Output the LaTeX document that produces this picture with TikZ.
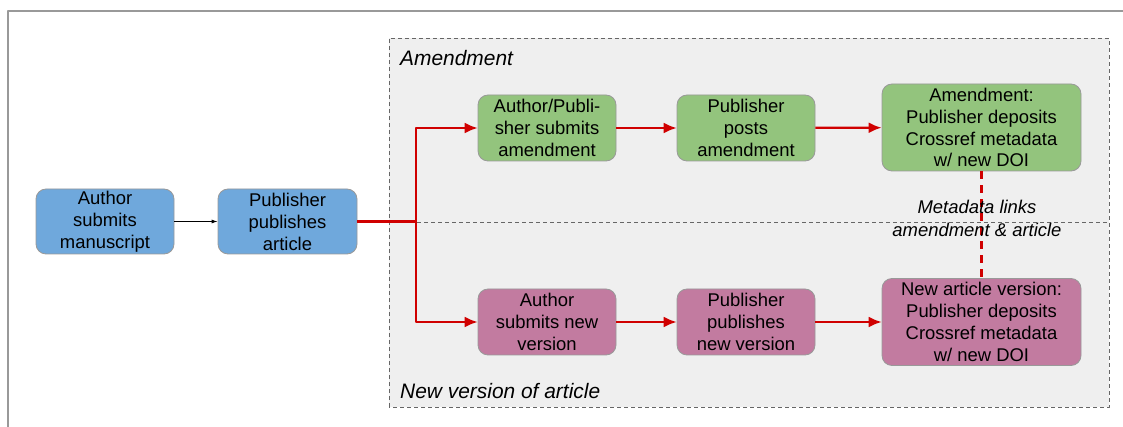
\documentclass[tikz,border=0pt]{standalone}
\usepackage{fontspec}
\setmainfont{Liberation Sans}
\usetikzlibrary{arrows.meta}
\definecolor{bluebox}{HTML}{6FA8DC}
\definecolor{greenbox}{HTML}{93C47D}
\definecolor{pinkbox}{HTML}{C27BA0}
\definecolor{redline}{HTML}{D00000}
\definecolor{regionfill}{HTML}{EFEFEF}
\tikzset{
  step box/.style={draw=black!40,line width=0.8bp,rounded corners=10bp,align=center,
    minimum width=138bp,minimum height=66bp,inner sep=1bp,
    font=\fontsize{18.5}{22}\selectfont},
  wide box/.style={step box,minimum width=199bp,minimum height=87bp},
  red flow/.style={draw=redline,line width=2.2bp,->},
}
\begin{document}
\begin{tikzpicture}[>={Latex[length=13bp,width=11bp]},line join=bevel,]
    \useasboundingbox (0bp,0bp) rectangle (1123bp,427bp);
    %% frame and regions
    \draw [black!40,line width=1.2bp] (8bp,0bp) -- (8bp,416bp) -- (1123bp,416bp);
    \draw [fill=regionfill,draw=black!60,dash pattern=on 4bp off 3bp,line width=0.8bp] (389bp,20bp) rectangle (1109bp,389bp);
    \draw [draw=black!60,dash pattern=on 4bp off 3bp,line width=0.8bp] (389bp,205bp) -- (1109bp,205bp);
    \node (amendlabel) at (400bp,369bp) [anchor=west,inner sep=0pt,font=\fontsize{21}{25}\selectfont\itshape] {Amendment};
    \node (versionlabel) at (400bp,36bp) [anchor=west,inner sep=0pt,font=\fontsize{21}{25}\selectfont\itshape] {New version of article};
    %%
    \node (ms) at (105.0bp,205.5bp) [step box,fill=bluebox,minimum height=65bp] {Author\\submits\\manuscript};
    \node (pub) at (287.5bp,205.5bp) [step box,fill=bluebox,minimum height=65bp,minimum width=139bp] {Publisher\\publishes\\article};
    \node (am1) at (547.0bp,299.0bp) [step box,fill=greenbox] {Author/Publi-\\sher submits\\amendment};
    \node (am2) at (746.0bp,299.0bp) [step box,fill=greenbox] {Publisher\\posts\\amendment};
    \node (am3) at (981.5bp,299.5bp) [wide box,fill=greenbox] {Amendment:\\Publisher deposits\\Crossref metadata\\w/ new DOI};
    \node (nv1) at (547.0bp,105.0bp) [step box,fill=pinkbox] {Author\\submits new\\version};
    \node (nv2) at (746.0bp,105.0bp) [step box,fill=pinkbox] {Publisher\\publishes\\new version};
    \node (nv3) at (981.5bp,105.0bp) [wide box,fill=pinkbox] {New article version:\\Publisher deposits\\Crossref metadata\\w/ new DOI};
    \coordinate (split) at (416bp,205.5bp);
    %%
    \draw [->,>={Latex[length=6bp,width=4bp]},line width=0.8bp] (ms) -- (pub);
    \draw [red flow,-] (pub) -- (split);
    \draw [red flow] (split) |- (am1);
    \draw [red flow] (split) |- (nv1);
    \draw [red flow] (am1) -- (am2);
    \draw [red flow] (am2) -- (am3);
    \draw [red flow] (nv1) -- (nv2);
    \draw [red flow] (nv2) -- (nv3);
    \draw [draw=redline,line width=2.2bp,dash pattern=on 8bp off 6bp] (am3) -- (nv3);
    \node (links) at (977bp,208.5bp) [align=center,font=\fontsize{18.5}{23}\selectfont\itshape] {Metadata links\\amendment \& article};
    %
\end{tikzpicture}
\end{document}
